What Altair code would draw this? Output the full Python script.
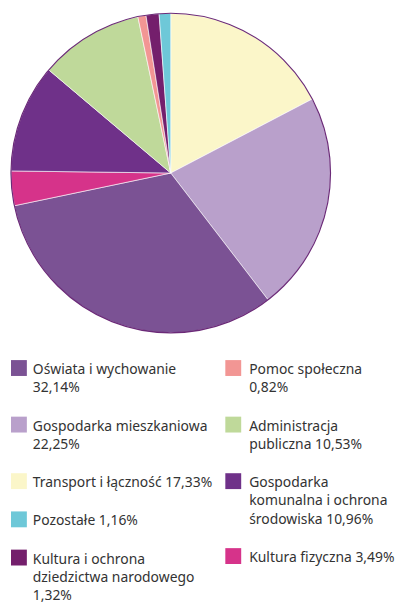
import altair as alt
import pandas as pd

# Pie slices in drawing order (clockwise from 12 o'clock)
slice_names = ["Transport i łączność", "Gospodarka mieszkaniowa", "Oświata i wychowanie",
               "Kultura fizyczna", "Gospodarka komunalna i ochrona środowiska",
               "Administracja publiczna", "Pomoc społeczna",
               "Kultura i ochrona dziedzictwa narodowego", "Pozostałe"]
slice_values = [17.33, 22.25, 32.14, 3.49, 10.96, 10.53, 0.82, 1.32, 1.16]
slice_colors = ["#fbf6c9", "#b9a0cb", "#7b5294", "#d6338a", "#6f3189",
                "#bfd99a", "#f29694", "#741f6c", "#6ec8d8"]

# Legend: two independent columns, each item as list of text lines
legend_left = [
    ("Oświata i wychowanie", ["Oświata i wychowanie", "32,14%"]),
    ("Gospodarka mieszkaniowa", ["Gospodarka mieszkaniowa", "22,25%"]),
    ("Transport i łączność", ["Transport i łączność 17,33%"]),
    ("Pozostałe", ["Pozostałe 1,16%"]),
    ("Kultura i ochrona dziedzictwa narodowego", ["Kultura i ochrona", "dziedzictwa narodowego", "1,32%"]),
]
legend_right = [
    ("Pomoc społeczna", ["Pomoc społeczna", "0,82%"]),
    ("Administracja publiczna", ["Administracja", "publiczna 10,53%"]),
    ("Gospodarka komunalna i ochrona środowiska", ["Gospodarka", "komunalna i ochrona", "środowiska 10,96%"]),
    ("Kultura fizyczna", ["Kultura fizyczna 3,49%"]),
]

FONT = "Noto Sans"
TEXT_COLOR = "#333333"
LINE_H = 18.5
GAP = 20
START = 26.5

pie_df = pd.DataFrame({"name": slice_names, "value": slice_values,
                       "order": list(range(len(slice_names)))})
color_scale = alt.Scale(domain=slice_names, range=slice_colors)

pie = alt.Chart(pie_df).mark_arc(stroke="#ffffff", strokeWidth=0.6).encode(
    theta=alt.Theta("value:Q", stack=True),
    order=alt.Order("order:Q"),
    color=alt.Color("name:N", scale=color_scale, legend=None),
)
outline = alt.Chart(pd.DataFrame({"v": [1]})).mark_arc(
    fillOpacity=0, stroke="#6b2a78", strokeWidth=1.2
).encode(theta=alt.Theta("v:Q", scale=alt.Scale(domain=[0, 1])))
pie_chart = alt.layer(pie, outline).resolve_scale(theta="independent").properties(
    width=322, height=324)

rows_sq = []
rows_tx = []
for col_x, items in ((8, legend_left), (224, legend_right)):
    y = START
    for name, lines in items:
        rows_sq.append({"name": name, "x": col_x, "y": y - 2})
        for i, ln in enumerate(lines):
            rows_tx.append({"text": ln, "x": col_x + 14 if col_x == 8 else col_x + 16,
                            "y": y + i * LINE_H})
        y += LINE_H * len(lines) + GAP

sq_df = pd.DataFrame(rows_sq)
tx_df = pd.DataFrame(rows_tx)
xs = alt.Scale(domain=[0, 388], range=[0, 388])
ys = alt.Scale(domain=[0, 250], range=[0, 250])

squares = alt.Chart(sq_df).mark_square(size=256, opacity=1).encode(
    x=alt.X("x:Q", scale=xs, axis=None),
    y=alt.Y("y:Q", scale=ys, axis=None),
    color=alt.Color("name:N", scale=color_scale, legend=None),
)
texts = alt.Chart(tx_df).mark_text(
    align="left", baseline="middle", font=FONT, fontSize=14, color=TEXT_COLOR
).encode(
    x=alt.X("x:Q", scale=xs, axis=None),
    y=alt.Y("y:Q", scale=ys, axis=None),
    text="text:N",
)
legend_chart = alt.layer(squares, texts).properties(width=388, height=250)

chart = alt.vconcat(pie_chart, legend_chart, spacing=8).properties(
    padding=0
).configure_view(stroke=None)

chart.save("out.html", embed_options={"renderer": "svg", "actions": False})
